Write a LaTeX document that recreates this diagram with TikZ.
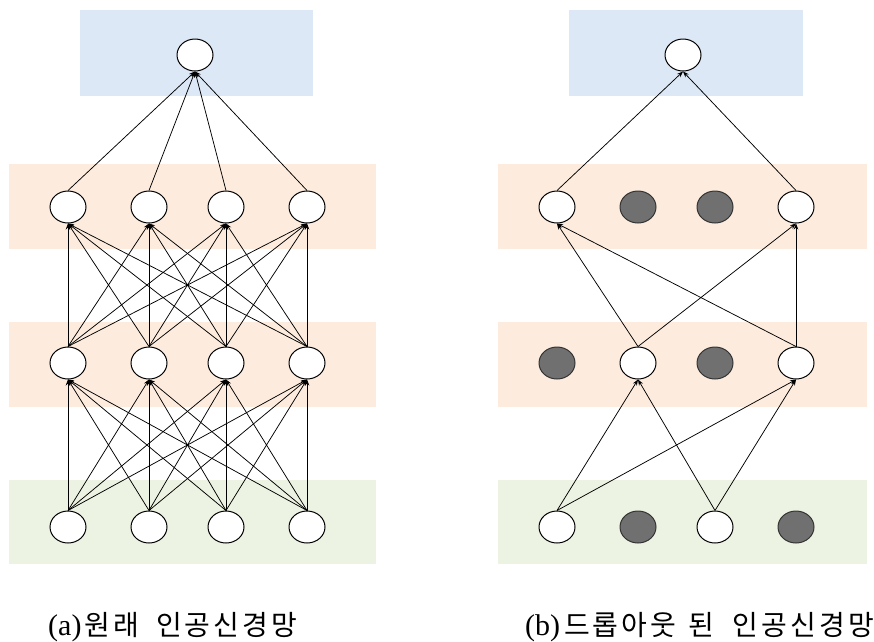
\documentclass[tikz,border=0pt]{standalone}
\usepackage{fontspec}
\newfontfamily\krfont{Noto Sans CJK KR}
\newfontfamily\latnfont{Liberation Serif}
\usetikzlibrary{arrows.meta,shapes.geometric}

\definecolor{outband}{RGB}{221,232,246}
\definecolor{hidband}{RGB}{253,236,222}
\definecolor{inband}{RGB}{237,243,226}
\definecolor{dropfill}{RGB}{112,112,112}

% tracking between Hangul syllables
\newcommand\tr{\kern3pt}

\tikzset{
  band/.style={fill=#1, draw=none},
  unit/.style={ellipse, draw=black, line width=1pt, fill=white,
               minimum width=36pt, minimum height=32pt, inner sep=0pt},
  dropped/.style={unit, fill=dropfill, draw=black!80},
  link/.style={draw=black, line width=0.75pt,
               -{Stealth[length=6pt,width=4.5pt]}},
  caption/.style={anchor=base west, inner sep=0pt}
}

\begin{document}
\begin{tikzpicture}[x=1pt,y=-1pt]
\useasboundingbox (0,0) rectangle (874,641);

% ---- layer bands, full network
\fill[band=outband] (80,10) rectangle (313,96);
\fill[band=hidband] (9,164) rectangle (376,249);
\fill[band=hidband] (9,322) rectangle (376,407);
\fill[band=inband]  (9,480) rectangle (376,564);

% ---- layer bands, thinned network
\fill[band=outband] (569,10) rectangle (803,96);
\fill[band=hidband] (498,164) rectangle (867,249);
\fill[band=hidband] (498,322) rectangle (867,407);
\fill[band=inband]  (498,480) rectangle (867,564);

% ---- full network units
\node[unit] (ao) at (195,55) {};
\foreach \i/\x in {1/68,2/149,3/226,4/307}{
  \node[unit] (ah\i) at (\x,207) {};
  \node[unit] (ag\i) at (\x,363) {};
  \node[unit] (ai\i) at (\x,527) {};
}

% full connections
\foreach \i in {1,...,4}{
  \draw[link] (ah\i.north) -- (ao.south);
  \foreach \j in {1,...,4}{
    \draw[link] (ag\i.north) -- (ah\j.south);
    \draw[link] (ai\i.north) -- (ag\j.south);
  }
}

% ---- thinned network units
\node[unit] (bo) at (683,55) {};
\node[unit]    (bh1) at (557,207) {};
\node[dropped] (bh2) at (638,207) {};
\node[dropped] (bh3) at (715,207) {};
\node[unit]    (bh4) at (796,207) {};
\node[dropped] (bg1) at (557,363) {};
\node[unit]    (bg2) at (638,363) {};
\node[dropped] (bg3) at (715,363) {};
\node[unit]    (bg4) at (796,363) {};
\node[unit]    (bi1) at (557,527) {};
\node[dropped] (bi2) at (638,527) {};
\node[unit]    (bi3) at (715,527) {};
\node[dropped] (bi4) at (796,527) {};

% surviving connections
\draw[link] (bh1.north) -- (bo.south);
\draw[link] (bh4.north) -- (bo.south);
\foreach \s in {bg2,bg4}{
  \draw[link] (\s.north) -- (bh1.south);
  \draw[link] (\s.north) -- (bh4.south);
}
\foreach \s in {bi1,bi3}{
  \draw[link] (\s.north) -- (bg2.south);
  \draw[link] (\s.north) -- (bg4.south);
}

% ---- captions
\node[caption] (capa) at (48,635)
  {{\latnfont\fontsize{30}{34}\selectfont (a)}\kern3pt
   {\krfont\fontsize{28}{32}\selectfont 원\tr 래\hspace{17pt}인\tr 공\tr 신\tr 경\tr 망}};
\node[caption] (capb) at (525,635)
  {{\latnfont\fontsize{30}{34}\selectfont (b)}\kern4pt
   {\krfont\fontsize{28}{32}\selectfont 드\tr 롭\tr 아\tr 웃\hspace{12pt}된\hspace{19pt}인\tr 공\tr 신\tr 경\tr 망}};
\end{tikzpicture}
\end{document}
